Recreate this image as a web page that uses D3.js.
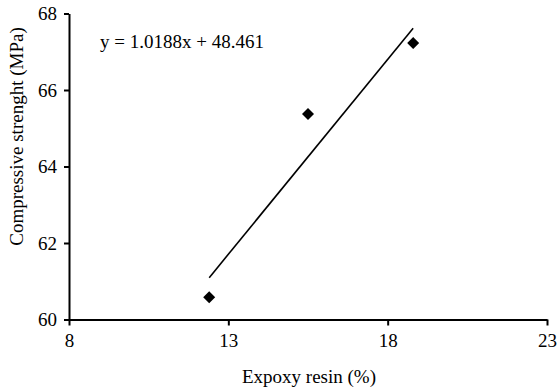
<!DOCTYPE html>
<html>
<head>
<meta charset="utf-8">
<script src="https://cdn.jsdelivr.net/npm/d3@7/dist/d3.min.js"></script>
<style>
  html, body { margin: 0; padding: 0; background: #fff; }
  svg text { font-family: "Liberation Serif", "Times New Roman", serif; fill: #000; }
</style>
</head>
<body>
<svg id="chart" width="558" height="389"></svg>
<script>
// Epoxy resin content (%) and measured compressive strength (MPa)
const resin = [12.4, 15.5, 18.8];
const strength = [60.58, 65.37, 67.23];
// Linear trend reported on the chart
const slope = 1.0188;
const intercept = 48.461;
const xTicks = [8, 13, 18, 23];
const yTicks = [60, 62, 64, 66, 68];

const svg = d3.select("#chart");
const plotLeft = 69, plotRight = 547, plotTop = 13.5, plotBottom = 319.5;
const fontSize = 19;

const x = d3.scaleLinear().domain([8, 23]).range([plotLeft, plotRight]);
const y = d3.scaleLinear().domain([60, 68]).range([plotBottom, plotTop]);

// Axes
const xAxis = svg.append("g")
  .attr("transform", `translate(0,${plotBottom})`)
  .call(d3.axisBottom(x).tickValues(xTicks).tickSizeInner(6).tickSizeOuter(0).tickPadding(8));
const yAxis = svg.append("g")
  .attr("transform", `translate(${plotLeft},0)`)
  .call(d3.axisLeft(y).tickValues(yTicks).tickSizeInner(5).tickSizeOuter(0).tickPadding(7));

[xAxis, yAxis].forEach(g => {
  g.select(".domain").attr("stroke", "#000").attr("stroke-width", 2);
  g.selectAll(".tick line").attr("stroke", "#000").attr("stroke-width", 2);
  g.selectAll(".tick text").attr("font-size", fontSize);
});

// Trend line spanning the data range
const xr = d3.extent(resin);
svg.append("line")
  .attr("x1", x(xr[0])).attr("y1", y(slope * xr[0] + intercept))
  .attr("x2", x(xr[1])).attr("y2", y(slope * xr[1] + intercept))
  .attr("stroke", "#000").attr("stroke-width", 1.6);

// Diamond markers
const r = 6;
svg.append("g").selectAll("path")
  .data(resin.map((v, i) => [v, strength[i]]))
  .join("path")
  .attr("d", d => {
    const cx = x(d[0]), cy = y(d[1]);
    return `M${cx},${cy - r}L${cx + r},${cy}L${cx},${cy + r}L${cx - r},${cy}Z`;
  })
  .attr("fill", "#000");

// Equation label
svg.append("text")
  .attr("x", 100).attr("y", 48)
  .attr("font-size", fontSize)
  .text(`y = ${slope}x + ${intercept}`);

// Axis titles
svg.append("text")
  .attr("x", 309).attr("y", 383)
  .attr("text-anchor", "middle")
  .attr("font-size", fontSize)
  .text("Expoxy resin (%)");

svg.append("text")
  .attr("transform", `translate(23,136.5) rotate(-90)`)
  .attr("text-anchor", "middle")
  .attr("font-size", fontSize)
  .text("Compressive strenght (MPa)");
</script>
</body>
</html>
